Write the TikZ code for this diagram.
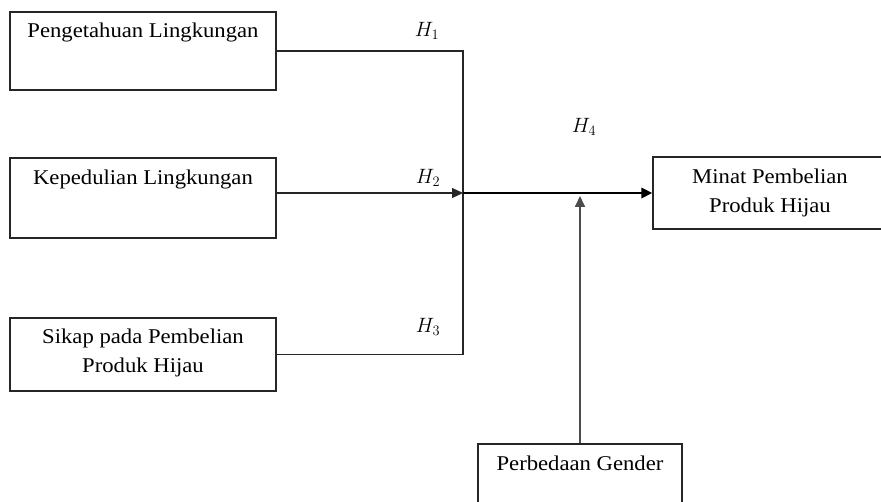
\documentclass[tikz,border=0pt]{standalone}
\usepackage{fontspec}
\setmainfont[FakeStretch=1.08]{Liberation Serif}
\usetikzlibrary{arrows.meta}
\begin{document}
\begin{tikzpicture}[x=1pt,y=-1pt,
  box/.style={draw=black!85, line width=1.1pt, inner sep=0pt, rectangle},
  txt/.style={font=\fontsize{21}{29}\selectfont, align=center, inner sep=0pt, text=black},
  hlab/.style={font=\fontsize{22}{24}\selectfont, inner sep=0pt},
  conn/.style={draw=black!85, line width=1.1pt},
  tip/.style={-{Triangle[length=11pt,width=10pt]}}
]
\useasboundingbox (0,0) rectangle (881,502);
\fill[white] (0,0) rectangle (881,502);
\begin{scope}
\clip (0,0) rectangle (881,502);
% boxes
\node[box, minimum width=266pt, minimum height=78pt] (b1) at (143,51) {};
\node[box, minimum width=266pt, minimum height=80pt] (b2) at (143,198) {};
\node[box, minimum width=266pt, minimum height=73pt] (b3) at (143,354.5) {};
\node[box, minimum width=242pt, minimum height=72pt] (b4) at (774,193) {};
\node[box, minimum width=204pt, minimum height=80pt] (b5) at (580,484) {};
\end{scope}
% texts
\node[txt] (t1) at (143,32) {Pengetahuan Lingkungan};
\node[txt] (t2) at (143,179) {Kepedulian Lingkungan};
\node[txt] (t3) at (143,353) {Sikap pada Pembelian\\Produk Hijau};
\node[txt] (t4) at (770,193) {Minat Pembelian\\Produk Hijau};
\node[txt] (t5) at (580,463) {Perbedaan Gender};
% hypothesis labels
\node[hlab] (h1) at (427,31) {$H_1$};
\node[hlab] (h2) at (428,178) {$H_2$};
\node[hlab] (h3) at (428,327) {$H_3$};
\node[hlab] (h4) at (584,127) {$H_4$};
% connectors
\coordinate (jm) at (463,193);
\draw[conn] (b1.east) -- (b1.east -| jm) -- (b3.east -| jm) -- (b3.east);
\draw[conn, tip] (b2.east |- jm) -- (jm);
\draw[line width=2.8pt, tip] (jm) -- (b4.west |- jm);
\draw[draw=black!70, line width=1.7pt, tip, shorten >=3pt] (b5.north) -- (b5.north |- jm);
\end{tikzpicture}
\end{document}
